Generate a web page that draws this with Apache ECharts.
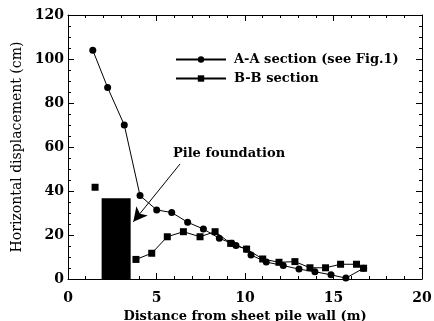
<!DOCTYPE html>
<html><head><meta charset="utf-8">
<script src="https://cdn.jsdelivr.net/npm/echarts@6/dist/echarts.min.js"></script>
<style>html,body{margin:0;padding:0;background:#fff}#c{width:434px;height:321px}</style>
</head><body><div id="c"></div>
<script>
var aaX = [1.4, 2.24, 3.18, 4.07, 5.01, 5.86, 6.76, 7.65, 8.55, 9.25, 9.49, 10.09, 10.34, 11.2, 12.16, 13.05, 13.95, 14.86, 15.7, 16.7];
var aaY = [104, 87, 70, 37.9, 31.4, 30.2, 25.8, 22.7, 18.5, 16.2, 15.2, 13.5, 10.9, 7.7, 6.1, 4.5, 3.3, 1.9, 0.4, 4.9];
var bbX = [1.53, null, 3.84, 4.73, 5.61, 6.52, 7.46, 8.31, 9.19, 10.09, 11.0, 11.92, 12.82, 13.67, 14.55, 15.4, 16.3, 16.7];
var bbY = [41.7, null, 8.9, 11.7, 19.2, 21.5, 19.2, 21.5, 16.2, 13.6, 9.1, 7.6, 7.9, 5.1, 5.1, 6.7, 6.7, 4.9];
var pileX = [1.9, 3.54];
var pileTop = 36.7;
var arrowFrom = [6.33, 52.3];
var arrowTo = [3.69, 26];
var pileLabelPos = [5.93, 57];

function pairs(xs, ys) { return xs.map(function (x, i) { return x === null ? '-' : [x, ys[i]]; }); }

var serif = 'DejaVu Serif';
var chart = echarts.init(document.getElementById('c'));
function ax(extra) {
  return Object.assign({
    axisLine: { show: true, onZero: false, lineStyle: { color: '#000', width: 1 } },
    splitLine: { show: false },
    axisTick: { show: true, inside: true, length: 6, lineStyle: { color: '#000' } }
  }, extra);
}
chart.setOption({
  animation: false,
  grid: { left: 68, right: 12, top: 15, bottom: 42, containLabel: false, outerBoundsMode: 'none' },
  legend: {
    orient: 'vertical', left: 170, top: 48, itemWidth: 50, itemHeight: 8, itemGap: 6,
    textStyle: { fontFamily: serif, fontWeight: 'bold', fontSize: 13, color: '#000', padding: [0, 0, 0, 3] },
    data: ['A-A section (see Fig.1)', 'B-B section']
  },
  xAxis: [ax({
    type: 'value', min: 0, max: 20, interval: 5,
    minorTick: { show: true, splitNumber: 5, length: 3, lineStyle: { color: '#000' } },
    axisLabel: { fontFamily: serif, fontWeight: 'bold', fontSize: 14, color: '#000', margin: 12 },
    name: 'Distance from sheet pile wall (m)', nameLocation: 'middle', nameGap: 28,
    nameTextStyle: { fontFamily: serif, fontWeight: 'bold', fontSize: 13, color: '#000' }
  }), ax({
    type: 'value', min: 0, max: 20, interval: 5, position: 'top',
    minorTick: { show: true, splitNumber: 5, length: 3, lineStyle: { color: '#000' } },
    axisLabel: { show: false }
  })],
  yAxis: [ax({
    type: 'value', min: 0, max: 120, interval: 20,
    minorTick: { show: true, splitNumber: 4, length: 3, lineStyle: { color: '#000' } },
    axisLabel: { fontFamily: serif, fontWeight: 'bold', fontSize: 14, color: '#000', margin: 4 },
    name: 'Horizontal displacement (cm)', nameLocation: 'middle', nameGap: 41,
    nameTextStyle: { fontFamily: serif, fontSize: 14, color: '#000' }
  }), ax({
    type: 'value', min: 0, max: 120, interval: 20, position: 'right',
    minorTick: { show: true, splitNumber: 4, length: 3, lineStyle: { color: '#000' } },
    axisLabel: { show: false }
  })],
  series: [{
    name: 'pile', type: 'line', data: [], silent: true,
    markArea: {
      silent: true,
      itemStyle: { color: '#000', opacity: 1 },
      data: [[{ coord: [pileX[0], 0] }, { coord: [pileX[1], pileTop] }]]
    },
    markLine: {
      silent: true, symbol: ['none', 'arrow'], symbolSize: [11, 14],
      lineStyle: { color: '#000', width: 1, type: 'solid' },
      label: { show: false },
      data: [[{ coord: arrowFrom }, { coord: arrowTo }]]
    },
    markPoint: {
      silent: true, symbol: 'circle', symbolSize: 0,
      label: { show: true, position: 'right', distance: 0, formatter: 'Pile foundation',
        fontFamily: serif, fontWeight: 'bold', fontSize: 13, color: '#000' },
      data: [{ coord: pileLabelPos }]
    }
  }, {
    name: 'A-A section (see Fig.1)', type: 'line', data: pairs(aaX, aaY),
    symbol: 'circle', symbolSize: 7, showAllSymbol: true,
    lineStyle: { color: '#000', width: 1 }, itemStyle: { color: '#000' }
  }, {
    name: 'B-B section', type: 'line', data: pairs(bbX, bbY),
    symbol: 'rect', symbolSize: 7, showAllSymbol: true, connectNulls: false,
    lineStyle: { color: '#000', width: 1 }, itemStyle: { color: '#000' }
  }]
});
</script></body></html>
